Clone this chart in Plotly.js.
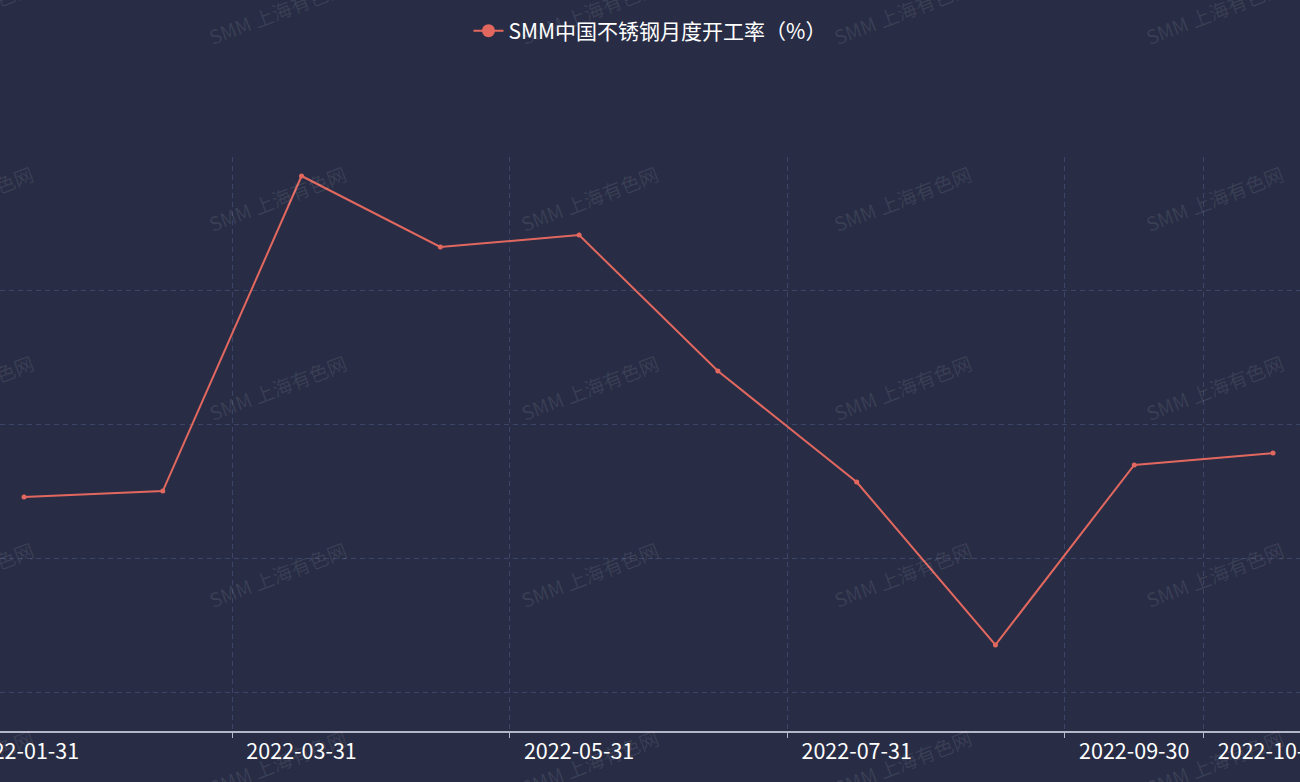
<!DOCTYPE html>
<html>
<head>
<meta charset="utf-8">
<script src="https://cdn.plot.ly/plotly-3.0.1.min.js"></script>
<style>
html,body{margin:0;padding:0;background:#282d45;}
#chart{width:1300px;height:782px;}
</style>
</head>
<body>
<div id="chart"></div>
<script>
// Data
const dates = ['2022-01-31','2022-02-28','2022-03-31','2022-04-30','2022-05-31','2022-06-30','2022-07-31','2022-08-31','2022-09-30','2022-10-31'];
const rates = [67.29, 67.51, 79.29, 76.64, 77.08, 72.00, 67.85, 61.76, 68.49, 68.93];
const shownLabels = ['2022-01-31','2022-03-31','2022-05-31','2022-07-31','2022-09-30','2022-10-31'];
const seriesName = 'SMM中国不锈钢月度开工率（%）';
const watermarkText = 'SMM 上海有色网';

// layout constants
const W = 1300, H = 782, mT = 157, mB = 51;
const plotH = H - mT - mB;
const wmCols = [-36, 277, 589, 902, 1214];
const wmRows = [12, 199, 387, 574, 762];
const lineColor = '#e2685f';

const annotations = [];
wmCols.forEach(cx => wmRows.forEach(cy => {
  annotations.push({
    text: watermarkText, xref: 'paper', yref: 'paper',
    x: cx / W, y: (H - mB - cy) / plotH,
    xanchor: 'center', yanchor: 'middle', showarrow: false,
    textangle: -21,
    font: {family: 'Noto Sans CJK SC', size: 19.5, color: 'rgba(255,255,255,0.09)'}
  });
}));

const trace = {
  x: dates, y: rates, type: 'scatter', mode: 'lines+markers',
  name: seriesName, showlegend: false,
  line: {color: lineColor, width: 2},
  marker: {color: lineColor, size: 5},
  hoverinfo: 'x+y'
};
// legend entry (same series, drawn only as the legend key)
const legendTrace = {
  x: [dates[0]], y: [null], type: 'scatter', mode: 'lines+markers',
  name: seriesName, showlegend: true, hoverinfo: 'skip',
  line: {color: lineColor, width: 2},
  marker: {color: lineColor, size: 13}
};
const gridTrace = {x: [], y: [], xaxis: 'x2', yaxis: 'y', showlegend: false, hoverinfo: 'skip', type: 'scatter'};

const nCat = dates.length;
const leftIdx = -24 / 138.78, rightIdx = (nCat - 1) + 27 / 138.78;
const gridColor = '#3b4567';

const layout = {
  width: W, height: H,
  paper_bgcolor: '#282d45', plot_bgcolor: '#282d45',
  margin: {l: 0, r: 0, t: mT, b: mB, pad: 0},
  font: {family: 'Noto Sans CJK SC', color: '#ffffff'},
  showlegend: true,
  legend: {
    orientation: 'h', x: 0.5, xanchor: 'center', y: (H - mB - 31) / plotH, yanchor: 'middle',
    font: {family: 'Noto Sans CJK SC', size: 21, color: '#ffffff'},
    bgcolor: 'rgba(0,0,0,0)'
  },
  xaxis: {
    type: 'category', range: [leftIdx, rightIdx],
    tickmode: 'array', tickvals: shownLabels, ticktext: shownLabels,
    showgrid: false, zeroline: false,
    showline: true, linecolor: '#b4b7c8', linewidth: 1.5,
    ticks: '', ticklabelstandoff: 0,
    tickfont: {family: 'Noto Sans CJK SC', size: 21.5, color: '#ffffff'},
    fixedrange: true
  },
  xaxis2: {
    type: 'linear', overlaying: 'x', anchor: 'y', side: 'bottom',
    range: [leftIdx, rightIdx],
    tickmode: 'array', tickvals: [1.5, 3.5, 5.5, 7.5, 8.5],
    showticklabels: false, ticks: 'outside', ticklen: 6, tickcolor: '#b4b7c8', tickwidth: 1,
    showgrid: true, gridcolor: gridColor, griddash: '5px,4px', gridwidth: 1,
    zeroline: false, showline: false, fixedrange: true
  },
  yaxis: {
    tick0: 60, dtick: 5, showticklabels: false,
    showgrid: true, gridcolor: gridColor, griddash: '5px,4px', gridwidth: 1,
    zeroline: false, showline: false, ticks: '', fixedrange: true
  },
  annotations: annotations,
  hovermode: 'x'
};
// y range bottom: axis line at 731px, grid 60 at 692px, 26.75 px per unit
layout.yaxis.range = [60 - (731 - 692) / 26.75, 80];

Plotly.newPlot('chart', [trace, legendTrace, gridTrace], layout, {displayModeBar: false, responsive: false});
</script>
</body>
</html>
